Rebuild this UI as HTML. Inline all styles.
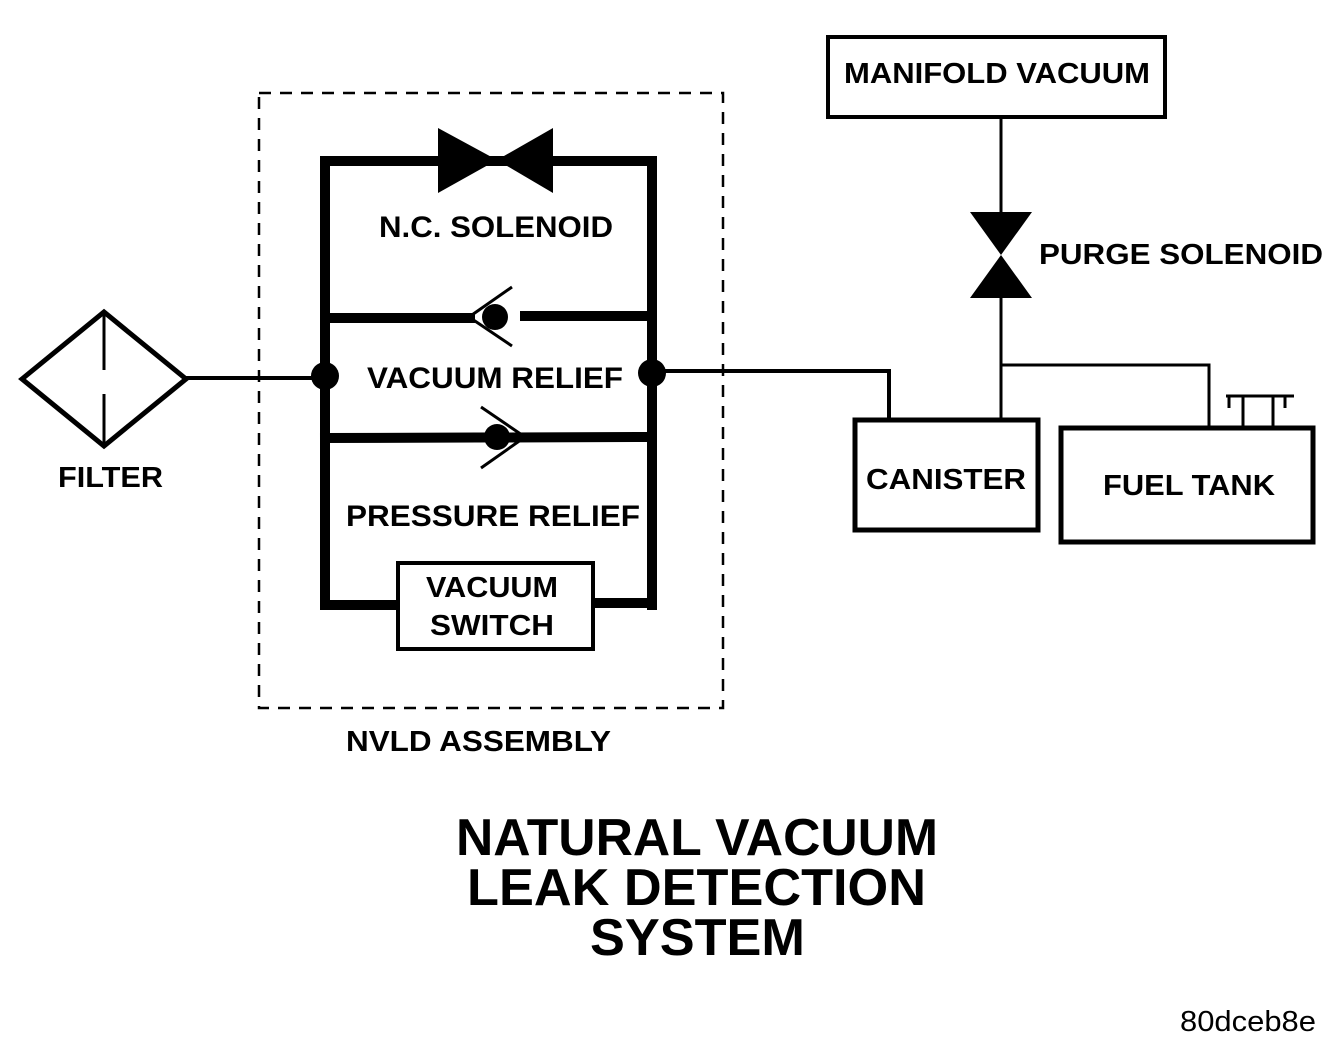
<!DOCTYPE html>
<html><head><meta charset="utf-8"><style>
html,body{margin:0;padding:0;background:#fff;}
svg{display:block;}
text{font-family:"Liberation Sans",sans-serif;font-weight:bold;fill:#000;}
</style></head><body>
<svg width="1344" height="1052" viewBox="0 0 1344 1052" xmlns="http://www.w3.org/2000/svg">
<rect x="0" y="0" width="1344" height="1052" fill="#fff"/>
<!-- dashed assembly box -->
<rect x="259" y="93" width="464" height="615" fill="none" stroke="#000" stroke-width="2.5" stroke-dasharray="12,9"/>
<!-- NVLD frame -->
<g stroke="#000" stroke-width="10" fill="none" stroke-linecap="square">
<line x1="325" y1="161" x2="325" y2="605"/>
<line x1="652" y1="161" x2="652" y2="605"/>
<line x1="325" y1="161" x2="652" y2="161"/>
<line x1="325" y1="318" x2="470" y2="318"/>
<line x1="525" y1="316" x2="652" y2="316"/>
<line x1="325" y1="438" x2="652" y2="437"/>
<line x1="325" y1="605" x2="398" y2="605"/>
<line x1="593" y1="603" x2="652" y2="603"/>
</g>
<!-- NC solenoid bowtie -->
<polygon points="438,128 497,160 438,193" fill="#000"/>
<polygon points="553,128 497,160 553,193" fill="#000"/>
<!-- vacuum relief check -->
<circle cx="495" cy="317" r="13" fill="#000"/>
<polyline points="512,287 469,317 512,346" fill="none" stroke="#000" stroke-width="3"/>
<!-- pressure relief check -->
<circle cx="497" cy="437" r="13" fill="#000"/>
<polyline points="481,407 525,437 481,468" fill="none" stroke="#000" stroke-width="3"/>
<!-- junction dots -->
<circle cx="325" cy="376" r="14" fill="#000"/>
<circle cx="652" cy="373" r="14" fill="#000"/>
<!-- vacuum switch -->
<rect x="398" y="563" width="195" height="86" fill="#fff" stroke="#000" stroke-width="4"/>
<!-- filter -->
<polygon points="22,379 104,312 186,379 104,446" fill="none" stroke="#000" stroke-width="5" stroke-linejoin="miter"/>
<line x1="104" y1="314" x2="104" y2="370" stroke="#000" stroke-width="3"/>
<line x1="104" y1="394" x2="104" y2="444" stroke="#000" stroke-width="3"/>
<line x1="186" y1="378" x2="325" y2="378" stroke="#000" stroke-width="4"/>
<!-- right connection -->
<polyline points="652,371 889,371 889,420" fill="none" stroke="#000" stroke-width="4"/>
<!-- manifold -->
<rect x="828" y="37" width="337" height="80" fill="none" stroke="#000" stroke-width="4"/>
<line x1="1001" y1="117" x2="1001" y2="215" stroke="#000" stroke-width="3"/>
<polygon points="970,212 1032,212 1001,255" fill="#000"/>
<polygon points="1001,255 1032,298 970,298" fill="#000"/>
<line x1="1001" y1="298" x2="1001" y2="420" stroke="#000" stroke-width="3"/>
<polyline points="1001,365 1209,365 1209,428" fill="none" stroke="#000" stroke-width="3"/>
<!-- canister -->
<rect x="855" y="420" width="183" height="110" fill="none" stroke="#000" stroke-width="5"/>
<!-- fuel tank -->
<rect x="1061" y="428" width="252" height="114" fill="none" stroke="#000" stroke-width="5"/>
<g stroke="#000" stroke-width="3">
<line x1="1226" y1="396" x2="1294" y2="396"/>
<line x1="1229" y1="396" x2="1229" y2="408"/>
<line x1="1243" y1="396" x2="1243" y2="428"/>
<line x1="1273" y1="396" x2="1273" y2="428"/>
<line x1="1285" y1="396" x2="1285" y2="408"/>
</g>
<!-- labels -->
<text x="379" y="237" font-size="30" textLength="234" lengthAdjust="spacingAndGlyphs">N.C. SOLENOID</text>
<text x="367" y="388" font-size="30" textLength="256" lengthAdjust="spacingAndGlyphs">VACUUM RELIEF</text>
<text x="346" y="526" font-size="30" textLength="294" lengthAdjust="spacingAndGlyphs">PRESSURE RELIEF</text>
<text x="426" y="597" font-size="29" textLength="132" lengthAdjust="spacingAndGlyphs">VACUUM</text>
<text x="430" y="635" font-size="29" textLength="124" lengthAdjust="spacingAndGlyphs">SWITCH</text>
<text x="58" y="487" font-size="29" textLength="105" lengthAdjust="spacingAndGlyphs">FILTER</text>
<text x="346" y="751" font-size="29" textLength="265" lengthAdjust="spacingAndGlyphs">NVLD ASSEMBLY</text>
<text x="844" y="83" font-size="29" textLength="306" lengthAdjust="spacingAndGlyphs">MANIFOLD VACUUM</text>
<text x="1039" y="264" font-size="29" textLength="284" lengthAdjust="spacingAndGlyphs">PURGE SOLENOID</text>
<text x="866" y="489" font-size="29" textLength="160" lengthAdjust="spacingAndGlyphs">CANISTER</text>
<text x="1103" y="495" font-size="29" textLength="172" lengthAdjust="spacingAndGlyphs">FUEL TANK</text>
<text x="456" y="855" font-size="52" textLength="482" lengthAdjust="spacingAndGlyphs">NATURAL VACUUM</text>
<text x="467" y="905" font-size="52" textLength="459" lengthAdjust="spacingAndGlyphs">LEAK DETECTION</text>
<text x="590" y="955" font-size="52" textLength="215" lengthAdjust="spacingAndGlyphs">SYSTEM</text>
<text x="1180" y="1031" font-size="29" font-weight="normal" style="font-weight:normal" textLength="136" lengthAdjust="spacingAndGlyphs">80dceb8e</text>
</svg>
</body></html>
